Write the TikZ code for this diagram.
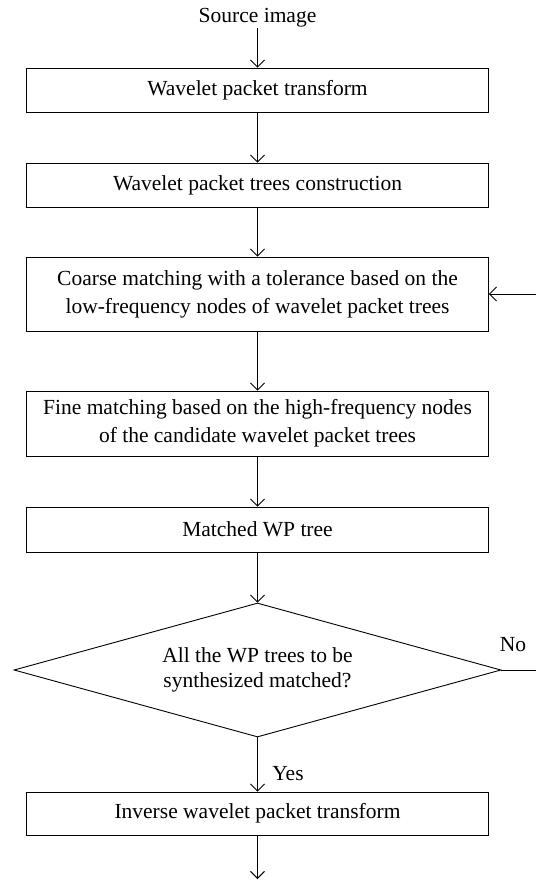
\documentclass[tikz,border=0pt]{standalone}
\usepackage{fontspec}
\setmainfont{Liberation Serif}
\usetikzlibrary{arrows.meta,shapes.geometric}
\begin{document}
\begin{tikzpicture}[x=1pt,y=-1pt,
  every node/.style={font=\fontsize{21.5}{25}\selectfont},
  proc/.style={draw, line width=0.9pt, rectangle, minimum width=462pt, inner sep=0pt, align=center},
  decis/.style={draw, line width=0.9pt, diamond, aspect=3.6, inner sep=0pt, minimum width=487pt, minimum height=134pt, align=center},
  flow/.style={line width=0.9pt, -{Straight Barb[length=7pt,width=14pt,line width=0.9pt]}},
  lbl/.style={inner sep=0pt}]
\useasboundingbox (0,0) rectangle (535,880);
\node[lbl] (src) at (257.5,18) {Source image};
\node[proc, minimum height=44pt] (b1) at (257.5,90) {Wavelet packet transform};
\node[proc, minimum height=44pt] (b2) at (257.5,185) {Wavelet packet trees construction};
\node[proc, minimum height=74pt] (b3) at (257.5,294) {Coarse matching with a tolerance based on the\\[3pt]low-frequency nodes of wavelet packet trees};
\node[proc, minimum height=65pt] (b4) at (257.5,423.5) {Fine matching based on the high-frequency nodes\\[3pt]of the candidate wavelet packet trees};
\node[proc, minimum height=45pt] (b5) at (257.5,529.5) {Matched WP tree};
\node[decis] (d) at (257.5,670) {All the WP trees to be\\synthesized matched?};
\node[proc, minimum height=43pt] (b6) at (257.5,813.5) {Inverse wavelet packet transform};
\node[lbl] (no) at (513,645) {No};
\node[lbl] (yes) at (288,774) {Yes};
\coordinate (end) at (257.5,879);
\coordinate (r1) at (560,670);
\coordinate (r2) at (560,294);
\draw[flow] (src) -- (b1);
\draw[flow] (b1) -- (b2);
\draw[flow] (b2) -- (b3);
\draw[flow] (b3) -- (b4);
\draw[flow] (b4) -- (b5);
\draw[flow] (b5) -- (d);
\draw[flow] (d) -- (b6);
\draw[flow] (b6) -- (end);
\draw[flow] (d.east) -- (r1) -- (r2) -- (b3.east);
\end{tikzpicture}
\end{document}
